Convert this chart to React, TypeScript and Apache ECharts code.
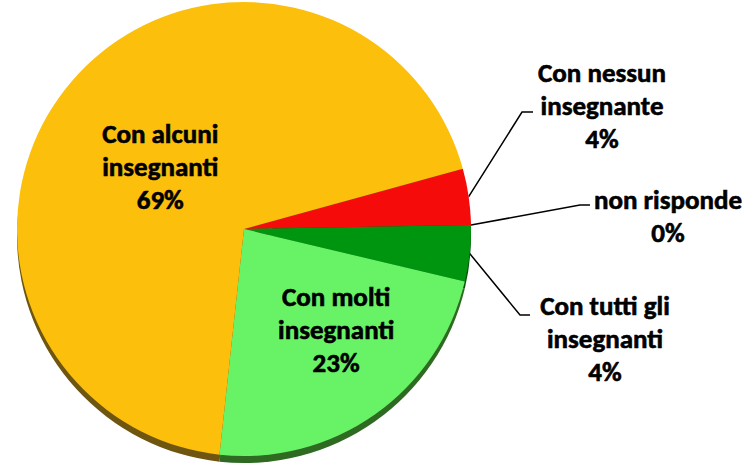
import React, { useEffect, useRef } from "react";
import * as echarts from "echarts";

const categories = [
  "Con nessun\ninsegnante",
  "non risponde",
  "Con tutti gli\ninsegnanti",
  "Con molti\ninsegnanti",
  "Con alcuni\ninsegnanti",
];
const values = [4, 0, 4, 23, 69];
const colors = ["#F60B0B", "#7F7F7F", "#00950F", "#68F266", "#FBBF0C"];
const sideColors = ["#8A0606", "#444444", "#004F08", "#2E6A22", "#6E5510"];

export default function App() {
  const ref = useRef<HTMLDivElement>(null);
  useEffect(() => {
    document.body.style.margin = "0";
    const chart = echarts.init(ref.current!, null, { renderer: "svg" });
    const center = [244, 229];
    const radius = 227;
    const startAngle = 15.4;
    // outer label layout: [labelX, labelTop, elbowX, elbowY, endX]
    const outer: Record<number, number[]> = {
      0: [602, 56, 522, 112, 533],
      1: [668, 183, 580, 205, 590],
      2: [605, 289, 520, 315, 530],
    };
    const inner: Record<number, number[]> = {
      3: [25, 5],
      4: [5, 13],
    };
    const font = {
      fontFamily: "Carlito, Lato, sans-serif",
      fontWeight: 900,
      fontSize: 27,
      lineHeight: 33,
      color: "#000",
      textBorderColor: "#000",
      textBorderWidth: 0.6,
    };
    chart.setOption({
      animation: false,
      series: [
        {
          type: "pie",
          silent: true,
          center: [center[0], center[1] + 7],
          radius,
          startAngle,
          clockwise: true,
          avoidLabelOverlap: false,
          label: { show: false },
          labelLine: { show: false },
          data: categories.map((c, i) => ({
            name: c,
            value: values[i],
            itemStyle: { color: sideColors[i] },
          })),
        },
        {
          type: "pie",
          center,
          radius,
          startAngle,
          clockwise: true,
          avoidLabelOverlap: false,
          itemStyle: { borderWidth: 0 },
          label: {
            ...font,
            align: "center",
            formatter: (p: any) => `${p.name}\n${Math.round(p.percent)}%`,
          },
          labelLine: {
            show: true,
            lineStyle: { color: "#000", width: 1.5 },
          },
          labelLayout: (p: any) => {
            const o = outer[p.dataIndex];
            if (o) {
              const start = p.labelLinePoints ? p.labelLinePoints[0] : [center[0] + radius, center[1]];
              return {
                x: o[0],
                y: o[1],
                align: "center",
                verticalAlign: "top",
                labelLinePoints: [start, [o[2], o[3]], [o[4], o[3]]],
              };
            }
            const d = inner[p.dataIndex];
            if (d) return { dx: d[0], dy: d[1] };
            return {};
          },
          data: categories.map((c, i) => ({
            name: c,
            value: values[i],
            itemStyle: { color: colors[i] },
            label: {
              position: i >= 3 ? "inside" : "outside",
            },
            labelLine: { show: i < 3 },
          })),
        },
      ],
    });
    return () => chart.dispose();
  }, []);
  return <div ref={ref} style={{ width: 751, height: 464 }} />;
}
